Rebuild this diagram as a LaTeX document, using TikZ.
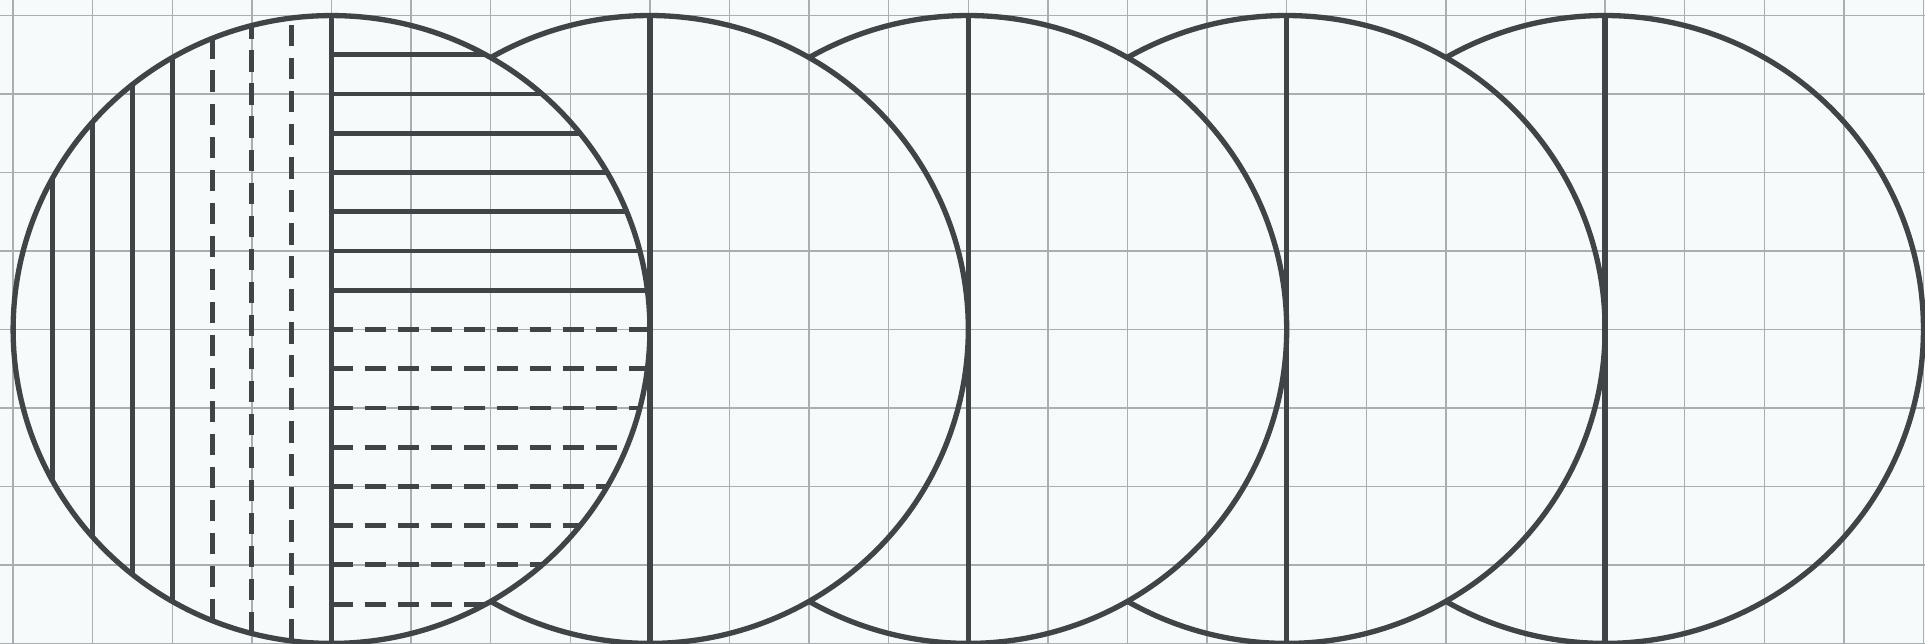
\documentclass[tikz,border=0pt]{standalone}
\usepackage{xcolor}
\usepackage{tikz}
\definecolor{paper}{HTML}{F6FAFB}
\definecolor{rule}{HTML}{A9AEB0}
\definecolor{pencil}{HTML}{404446}

\begin{document}
\begin{tikzpicture}[x=0.5cm, y=0.493cm,
    paperline/.style={draw=rule, line width=0.5pt},
    rim/.style={draw=pencil, line width=1.9pt},
    hatch/.style={draw=pencil, line width=1.75pt},
    hatchdash/.style={hatch, dash pattern=on 2.7mm off 1.45mm}]
    \fill[paper] (-8.33,-8.015) rectangle (40.04,8.397);
    \useasboundingbox (-8.33,-8.015) rectangle (40.04,8.397);
    \foreach \x in {-8,-6,...,40}
        \draw[paperline] (\x,-8.015) -- (\x,8.397);
    \foreach \y in {-8,-6,...,8}
        \draw[paperline] (-8.33,\y) -- (40.04,\y);
    \foreach \k in {0,...,4}
        \coordinate (c\k) at (8*\k,0);
    \foreach \x in {-7,...,-4}
        \draw[hatch] (\x,{-sqrt(64-pow(\x,2))}) -- (\x,{sqrt(64-pow(\x,2))});
    \foreach \x in {-3,-2,-1}
        \draw[hatchdash] (\x,{-sqrt(64-pow(\x,2))}) -- (\x,{sqrt(64-pow(\x,2))});
    \foreach \y in {1,...,7}
        \draw[hatch] (0,\y) -- ({sqrt(64-pow(\y,2))},\y);
    \foreach \y in {0,-1,...,-7}
        \draw[hatchdash] (0,\y) -- ({sqrt(64-pow(\y,2))},\y);
    \draw[rim] (c0) circle[radius=8];
    \foreach \k in {1,...,4}
        \draw[rim] (c\k) ++(120:8) arc[start angle=120, end angle=-120, radius=8];
    \foreach \k in {0,...,4}
        \draw[rim] (c\k) ++(0,-8) -- ++(0,16);
\end{tikzpicture}
\end{document}
